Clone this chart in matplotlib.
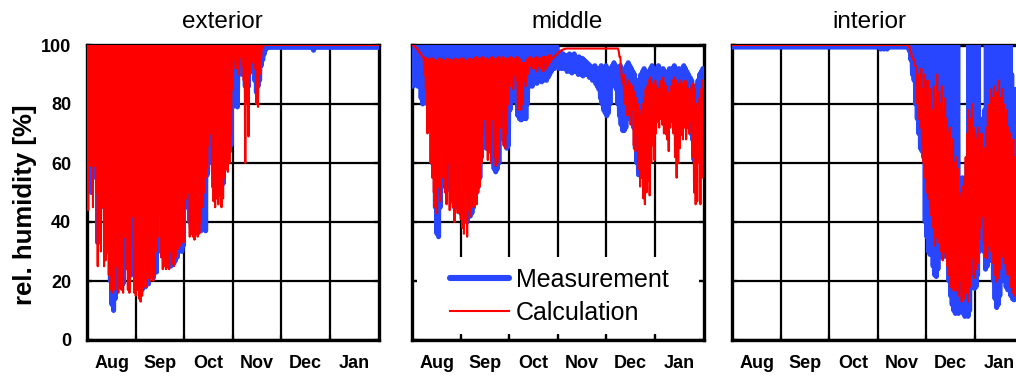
import numpy as np
import matplotlib
matplotlib.use("Agg")
import matplotlib.pyplot as plt
from matplotlib.lines import Line2D
from matplotlib.patches import Rectangle

plt.rcParams['font.family'] = ['Liberation Sans', 'DejaVu Sans']

# ---------------------------------------------------------------- axis data
months = ["Aug", "Sep", "Oct", "Nov", "Dec", "Jan"]
month_days = [31, 30, 31, 30, 31, 31]
y_ticks = [0, 20, 40, 60, 80, 100]
panel_titles = ["exterior", "middle", "interior"]
series_labels = ["Measurement", "Calculation"]

# ---------------------------------------------------------------- daily extremes of relative humidity [%]
# exterior layer
ext_meas_hi = [100] * 113 + [99.2] * 71
ext_meas_lo = (
    [51, 80, 50, 65, 62, 55, 33, 40, 60, 65, 45, 32, 48, 30, 20, 12, 10, 14, 25, 18,
     22, 30, 19, 40, 28, 26, 35, 22, 45, 30, 20]
    + [18, 22, 18, 17, 18, 18, 22, 19, 26, 22, 21, 24, 23, 30, 40, 51, 30, 28, 26, 25,
       27, 25, 35, 26, 27, 28, 33, 31, 30, 32]
    + [50, 45, 55, 40, 38, 37, 36, 38, 37, 37, 37, 38, 38, 37, 56, 65, 73, 60, 52, 55,
       53, 52, 54, 51, 53, 58, 71, 65, 64, 66, 79]
    + [91, 92, 79, 92, 93, 90, 92, 86, 90, 86, 91, 93, 91, 88, 84, 86, 88, 93, 95, 97,
       98.5, 99.2, 99.2, 99.2, 99.2, 99.2, 99.2, 99.2, 99.2, 99.2]
    + [99.2] * 20 + [98.2] + [99.2] * 10
    + [99.2] * 31
)
ext_calc_hi = [100] * 184
ext_calc_lo = (
    [44, 60, 59, 45, 59, 50, 25, 38, 30, 45, 25, 27, 40, 22, 17, 16, 18, 17, 25, 16,
     20, 17, 16, 35, 24, 17, 16, 22, 42, 16, 15]
    + [17, 14, 13, 15, 18, 20, 18, 21, 20, 25, 20, 22, 30, 35, 43, 28, 24, 25, 24, 26,
       24, 30, 26, 25, 28, 34, 31, 32, 35, 33]
    + [45, 48, 50, 35, 36, 35, 34, 36, 35, 36, 40, 45, 50, 55, 58, 66, 70, 57, 47, 45,
       48, 46, 49, 45, 48, 55, 58, 57, 60, 70, 85]
    + [95, 92, 95, 90, 96, 93, 88, 60, 80, 69, 90, 94, 96, 92, 80, 79, 90, 96, 99, 100,
       100, 100, 100, 100, 100, 100, 100, 100, 100, 100]
    + [100] * 31
    + [100] * 31
)

# middle layer
mid_meas_hi = (
    [99.5] * 92
    + [97.5, 97.5, 97, 97, 96.5, 96, 96.5, 97, 96, 96.5, 97, 96, 95.5, 96, 95, 95.5, 95,
       94.5, 94, 93.5, 93, 92.5, 92, 93, 92, 91, 92, 93, 92, 92]
    + [93, 92, 91, 92, 93, 94, 93, 92, 92, 93, 92, 91, 92, 93, 94, 93, 92, 91, 90, 88,
       86, 88, 90, 91, 92, 91, 90, 91, 92, 93, 92]
    + [91, 92, 93, 92, 91, 92, 91, 90, 91, 92, 91, 92, 93, 92, 91, 92, 91, 92, 93, 92,
       91, 90, 89, 88, 86, 85, 86, 88, 90, 91, 92]
)
mid_meas_lo = (
    [86, 95, 92, 86, 97, 82, 80, 88, 90, 80, 77, 78, 60, 56, 45, 36, 35, 45, 58, 58,
     52, 55, 52, 51, 52, 47, 45, 48, 46, 44, 43]
    + [42, 44, 52, 40, 42, 42, 43, 45, 50, 50, 52, 55, 62, 66, 70, 65, 66, 64, 66, 67,
       58, 57, 58, 60, 70, 75, 68, 66, 65, 66]
    + [78, 82, 81, 82, 84, 76, 75, 74.6, 75, 76, 75, 80, 86, 87, 86, 87, 88, 87, 88, 89,
       87.5, 88, 89, 88, 89, 90, 91, 92, 92, 93, 93]
    + [92, 92.5, 92, 93, 92, 91, 92, 91, 90.5, 91, 92, 91, 90, 91, 90, 89.5, 90, 91, 90,
       89, 90, 88, 89, 87, 86, 85, 82, 80, 78, 77]
    + [76, 77, 80, 86, 88, 87, 85, 80, 76, 73, 71, 71, 72, 75, 77, 80, 78, 72, 65, 60,
       56, 58, 60, 56, 62, 66, 72, 78, 80, 76, 74]
    + [78, 80, 79, 82, 76, 78, 74, 70, 76, 78, 80, 78, 79, 76, 74, 72, 70, 75, 78, 80,
       76, 72, 70, 68, 61, 64, 70, 72, 80, 88, 90]
)
mid_calc_hi = (
    [100, 99.5, 99, 98.5, 97.5, 97, 96, 96, 95.5, 95.5, 95, 95.5, 95, 95.5, 95, 94.5,
     95, 95.5, 95, 95, 94.5, 95, 95.5, 95, 95, 94.5, 95, 95.5, 95, 95, 95.5]
    + [95, 95.5, 95, 94.5, 95, 95.5, 95, 95, 95.5, 96, 95.5, 95, 95.5, 96, 95.5, 95,
       95.5, 95, 95.5, 96, 95.5, 95, 95.5, 96, 95.5, 95, 96, 95.5, 95, 95.5]
    + [95.5, 96, 95.5, 95, 95.5, 96, 95.5, 95, 94, 93.5, 94, 95, 95.5, 96, 95.5, 95,
       95.5, 96, 95.5, 95, 95.5, 96, 96, 95.5, 96, 96.5, 96.5, 95.5, 96, 96.5, 97]
    + [97.5, 98, 98.3, 98.5, 98.7] + [98.8] * 25
    + [98.8] * 8 + [98, 96]
    + [88, 90, 89, 86, 88, 87, 85, 86, 84, 82, 80, 78, 76, 80, 82, 85, 86, 88, 89, 86, 87]
    + [88, 86, 85, 87, 88, 89, 87, 86, 84, 83, 86, 88, 89, 88, 87, 86, 88, 87, 86, 88,
       87, 85, 84, 86, 87, 85, 80, 78, 82, 85, 88]
)
mid_calc_lo = (
    [100, 99.5, 99, 98.5, 97.5, 97, 96, 90, 85, 70, 72, 60, 55, 50, 45, 43, 52, 47, 64,
     55, 50, 46, 60, 44, 48, 45, 40, 47, 43, 45, 41]
    + [38, 36, 50, 35, 44, 42, 50, 45, 48, 46, 50, 52, 60, 70, 75, 65, 61, 66, 60, 75,
       62, 59, 60, 62, 72, 78, 66, 65, 70, 80]
    + [86, 88, 85, 90, 88, 78, 86, 78, 80, 88, 86, 90, 92, 93, 92, 93, 92, 91, 93, 92,
       93, 91, 94, 92, 93, 94, 95, 95.5, 96, 96.5, 97]
    + [97.5, 98, 98.3, 98.5, 98.7] + [98.8] * 25
    + [98.8] * 8
    + [96, 92, 87, 80, 85, 76, 80, 73, 78, 66, 64, 70, 58, 52, 55, 48, 46, 50, 54, 49,
       60, 66, 61]
    + [70, 74, 72, 75, 73, 70, 72, 68, 64, 72, 74, 70, 62, 55, 60, 65, 70, 68, 72, 68,
       72, 70, 74, 62, 50, 46, 47, 60, 46, 55, 86]
)

# interior layer
int_meas_hi = (
    [99.3] * 92
    + [99.3] * 19 + [100] * 11
    + [100] * 21 + [53, 50, 55, 52, 55, 60] + [100] * 4
    + [100] * 3 + [75, 70, 72, 78] + [100] * 16 + [90, 85, 80, 85, 88, 90, 90, 90]
)
int_meas_lo = (
    [99.3] * 92
    + [99.3, 98.6, 99.3, 98.6, 99.3, 98.6] + [99.3] * 13
    + [98, 95, 90, 88, 80, 75, 70, 65, 64, 62, 40]
    + [35, 30, 29, 33, 25, 22, 21.5, 24, 30, 31, 28, 30, 32, 28, 20, 15, 12, 10, 9, 11,
       9, 14, 20, 9, 8, 12, 8, 10, 18, 25, 17.5]
    + [18, 22, 30, 35, 40, 30, 24, 25, 30, 27, 29, 20, 14, 11, 12, 15, 20, 26, 22, 18,
       17, 20, 15, 14, 13.6, 15, 18, 20, 22, 25, 25]
)
int_calc_hi = (
    [100] * 92
    + [100] * 19 + [99.5, 98, 96, 95, 93, 92, 90, 88, 92, 85, 90]
    + [82, 88, 80, 85, 78, 86, 82, 90, 84, 80, 86, 78, 82, 75, 70, 72, 65, 68, 60, 62,
       58, 50, 48, 52, 55, 62, 70, 78, 75, 80, 72]
    + [70, 68, 72, 66, 70, 60, 65, 72, 78, 80, 85, 82, 86, 80, 84, 88, 82, 85, 80, 76,
       78, 72, 70, 66, 68, 62, 60, 65, 68, 70, 70]
)
int_calc_lo = (
    [100] * 92
    + [100] * 19 + [99.5, 98, 96, 95, 93, 80, 75, 72, 66, 60, 55]
    + [50, 48, 45, 42, 38, 32, 35, 33, 36, 30, 27, 30, 28, 25, 22, 18, 17, 20, 16.6, 18,
       15, 20, 13, 15, 14, 16, 13, 18, 22, 28, 21]
    + [24, 26, 34, 38, 42, 33, 28, 27.7, 32, 30, 34, 26, 22, 19.8, 21, 24, 28, 30, 26, 24,
       22, 25, 18, 16, 15, 17, 20, 24, 26, 28, 28]
)

panels = [
    (ext_meas_hi, ext_meas_lo, ext_calc_hi, ext_calc_lo),
    (mid_meas_hi, mid_meas_lo, mid_calc_hi, mid_calc_lo),
    (int_meas_hi, int_meas_lo, int_calc_hi, int_calc_lo),
]

# ---------------------------------------------------------------- styling
MEAS_COLOR = "#2846ff"
CALC_COLOR = "#ff0000"
MEAS_LW = 3.6
CALC_LW = 1.5


def daily_cycle(hi, lo):
    """Turn daily maxima/minima into a day-night zigzag time series."""
    n = len(lo)
    t = np.repeat(np.arange(n, dtype=float), 2) + np.tile([0.25, 0.75], n)
    v = np.column_stack([hi, lo]).ravel()
    return t, v


bounds = np.concatenate([[0], np.cumsum(month_days)])
centers = (bounds[:-1] + bounds[1:]) / 2

fig = plt.figure(figsize=(10.16, 3.77), dpi=100)
W, H = 1016.0, 377.0
lefts = [87, 412, 732]
title_x = [222, 567, 869]
axes = []
for i, left in enumerate(lefts):
    ax = fig.add_axes([left / W, 37 / H, 292 / W, 295 / H])
    axes.append(ax)
    mh, ml, ch, cl = panels[i]
    t, v = daily_cycle(mh, ml)
    ax.plot(t, v, color=MEAS_COLOR, lw=MEAS_LW, zorder=3, solid_joinstyle="round")
    t, v = daily_cycle(ch, cl)
    ax.plot(t, v, color=CALC_COLOR, lw=CALC_LW, zorder=3.1, solid_joinstyle="round")

    ax.set_xlim(bounds[0], bounds[-1])
    ax.set_ylim(0, 100)
    ax.set_xticks(bounds[1:-1])
    ax.set_xticks(centers, minor=True)
    ax.set_xticklabels(months, minor=True, fontweight="bold", fontsize=13)
    ax.set_yticks(y_ticks)
    ax.set_yticklabels([str(y) for y in y_ticks], fontweight="bold", fontsize=13)
    ax.tick_params(which="major", direction="in", length=3.6, width=1.6,
                   top=True, right=True, labelbottom=False,
                   labelleft=(i == 0), pad=11.5)
    ax.tick_params(axis="x", which="minor", length=0, pad=11)
    ax.grid(True, which="major", color="black", linewidth=1.6)
    for sp in ax.spines.values():
        sp.set_linewidth(2.4)
    fig.text(title_x[i] / W, 1 - 28 / H, panel_titles[i], ha="center",
             va="baseline", fontsize=17.5)

fig.text(25 / W, 1 - 205 / H, "rel. humidity [%]", rotation=90, ha="center",
         va="center", fontsize=18.5, fontweight="bold")

# legend in the middle panel on a white block
ax2 = axes[1]
ax2.add_patch(Rectangle((0.017, 0.02), 0.966, 0.261, transform=ax2.transAxes,
                        facecolor="white", edgecolor="none", zorder=2.6))
handles = [Line2D([], [], color=MEAS_COLOR, lw=4.4, solid_capstyle="round"),
           Line2D([], [], color=CALC_COLOR, lw=CALC_LW)]
ax2.legend(handles, series_labels, loc="center", bbox_to_anchor=(0.505, 0.148),
           frameon=False, fontsize=18, handlelength=2.35, handletextpad=0.28,
           labelspacing=0.37, borderpad=0)

fig.savefig("out.png", dpi=100)
